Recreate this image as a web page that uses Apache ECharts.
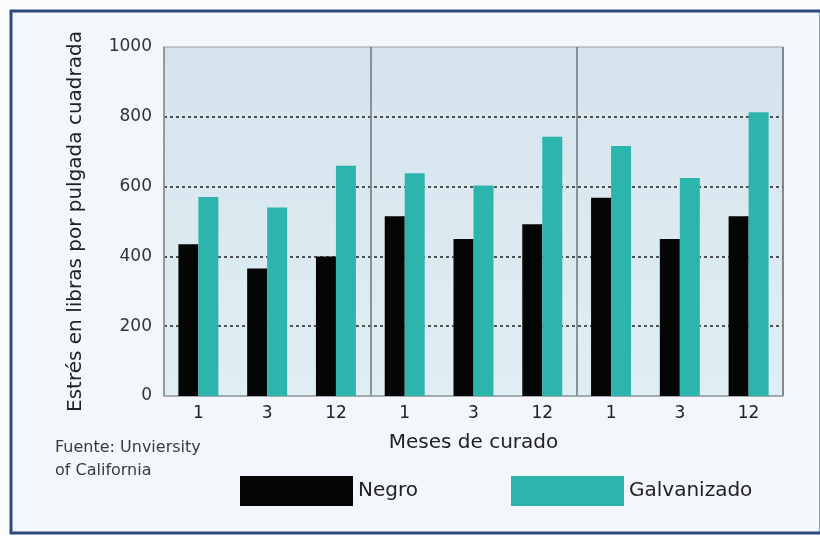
<!DOCTYPE html>
<html>
<head>
<meta charset="utf-8">
<script src="https://cdn.jsdelivr.net/npm/echarts@6/dist/echarts.min.js"></script>
<style>
  html, body { margin: 0; padding: 0; background: #fbfcfd; }
  #chart { width: 820px; height: 536px; }
</style>
</head>
<body>
<div id="chart"></div>
<script>
// Months of curing, repeated for three test groups
const categories = ['1', '3', '12', '1', '3', '12', '1', '3', '12'];
// Stress in pounds per square inch
const negro = [435, 365, 400, 515, 450, 492, 568, 450, 515];
const galvanizado = [570, 540, 660, 638, 603, 743, 716, 625, 813];
const seriesNames = ['Negro', 'Galvanizado'];
const yTicks = { min: 0, max: 1000, interval: 200 };

const FONT = 'DejaVu Sans';
const chart = echarts.init(document.getElementById('chart'));

chart.setOption({
  animation: false,
  backgroundColor: '#fbfcfd',
  graphic: [
    {
      type: 'rect',
      z: -10,
      shape: { x: 11, y: 11, width: 810, height: 522 },
      style: { fill: '#f3f6fa', stroke: '#2c4a7e', lineWidth: 3 }
    },
    {
      type: 'text',
      left: 55,
      top: 436,
      style: {
        text: 'Fuente: Unviersity\nof California',
        font: '16px "DejaVu Sans"',
        fill: '#3a3a3a',
        lineHeight: 23
      }
    }
  ],
  legend: [
    {
      data: [seriesNames[0]],
      left: 240, top: 476,
      padding: 0,
      itemWidth: 113, itemHeight: 30,
      icon: 'rect',
      textStyle: { fontFamily: FONT, fontSize: 20, color: '#222' }
    },
    {
      data: [seriesNames[1]],
      left: 511, top: 476,
      padding: 0,
      itemWidth: 113, itemHeight: 30,
      icon: 'rect',
      textStyle: { fontFamily: FONT, fontSize: 20, color: '#222' }
    }
  ],
  grid: {
    left: 164, right: 37, top: 47, bottom: 140,
    show: true,
    borderColor: '#9a9fa5',
    borderWidth: 1,
    backgroundColor: {
      type: 'linear', x: 0, y: 0, x2: 0, y2: 1,
      colorStops: [
        { offset: 0, color: '#d6e3ed' },
        { offset: 1, color: '#dfeef4' }
      ]
    }
  },
  xAxis: {
    type: 'category',
    data: categories,
    axisTick: { show: false },
    axisLine: { lineStyle: { color: '#9a9fa5', width: 1.5 } },
    axisLabel: { fontFamily: FONT, fontSize: 17, color: '#222', margin: 9 },
    splitLine: {
      show: true,
      interval: 2,
      lineStyle: { color: '#6f7378', width: 1.5 }
    },
    name: 'Meses de curado',
    nameLocation: 'middle',
    nameGap: 37,
    nameTextStyle: { fontFamily: FONT, fontSize: 20, color: '#222' }
  },
  yAxis: {
    type: 'value',
    min: yTicks.min,
    max: yTicks.max,
    interval: yTicks.interval,
    axisLine: { show: true, lineStyle: { color: '#9a9fa5', width: 1.5 } },
    axisTick: { show: false },
    axisLabel: {
      fontFamily: FONT, fontSize: 17, color: '#333', margin: 12,
      formatter: (v) => String(v)
    },
    splitLine: {
      show: true,
      showMinLine: false,
      showMaxLine: false,
      lineStyle: { type: [3, 3], color: '#222', width: 1.5 }
    },
    name: 'Estrés en libras por pulgada cuadrada',
    nameLocation: 'middle',
    nameRotate: 90,
    nameGap: 78,
    nameTextStyle: { fontFamily: FONT, fontSize: 20, color: '#222' }
  },
  series: [
    {
      name: seriesNames[0],
      type: 'bar',
      data: negro,
      barWidth: 20,
      barGap: '0%',
      itemStyle: { color: '#050505' }
    },
    {
      name: seriesNames[1],
      type: 'bar',
      data: galvanizado,
      barWidth: 20,
      barGap: '0%',
      itemStyle: { color: '#2bb5ad' }
    }
  ]
});
</script>
</body>
</html>
